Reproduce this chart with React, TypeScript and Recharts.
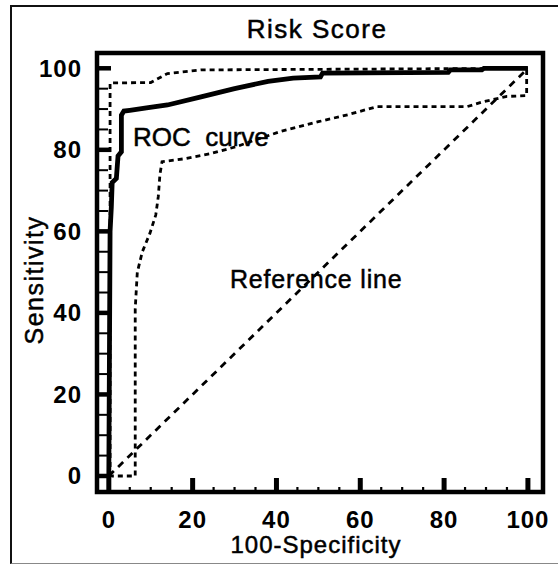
import React from 'react';
import { LineChart, Line, XAxis, YAxis, ReferenceArea } from 'recharts';

// ---- axis setup ----
const X_DOMAIN: [number, number] = [-2.82, 103.6];
const Y_DOMAIN: [number, number] = [-3.93, 103.75];
const AXIS_TICKS = [0, 5, 10, 15, 20, 25, 30, 35, 40, 45, 50, 55, 60, 65, 70, 75, 80, 85, 90, 95, 100];
const MAJOR_STEP = 20;

// ---- ROC curve (solid) ----
const rocX = [0, 0.3, 0.6, 0.8, 1.8, 2.2, 3, 3, 3.6, 5, 9, 14, 22, 30, 38, 44, 50.5, 51, 81, 81.5, 89, 89.5, 100];
const rocY = [0, 60, 66, 72, 73, 78.5, 79.5, 88.5, 89.5, 89.7, 90.3, 91, 93, 95, 96.8, 97.6, 97.9, 98.8, 99, 99.6, 99.6, 100, 100];

// ---- upper confidence bound (dashed) ----
const upperX = [0.3, 0.3, 10, 14, 22, 100];
const upperY = [0, 96.4, 96.5, 98.7, 99.6, 100];

// ---- lower confidence bound (dashed) ----
const lowerX = [0, 6.3, 6.3, 6.8, 8, 9.8, 11.2, 11.8, 12.2, 12.7, 18, 24, 30.5, 36, 41, 50, 57, 64, 85.5, 89, 95, 99.7, 99.7, 100];
const lowerY = [0, 0, 41, 50, 55, 59.5, 64, 68.5, 74, 77.1, 77.8, 79, 80.8, 82.8, 84.5, 86.9, 88.6, 90.6, 90.6, 91.7, 93.1, 93.3, 100, 100];

// ---- reference (chance) line ----
const refX = [0, 100];
const refY = [0, 100];

// ---- texts ----
const TITLE = 'Risk Score';
const X_TITLE = '100-Specificity';
const Y_TITLE = 'Sensitivity';
const ROC_LABEL = 'ROC\u00a0\u00a0curve';
const REF_LABEL = 'Reference line';

const zip = (xs: number[], ys: number[]) => xs.map((x, i) => ({ x, y: ys[i] }));
const rocData = zip(rocX, rocY);
const upperData = zip(upperX, upperY);
const lowerData = zip(lowerX, lowerY);
const refData = zip(refX, refY);

const FONT = '"Liberation Sans", Arial, Helvetica, sans-serif';
const TEXT_STROKE = { stroke: '#000', strokeWidth: 0.5 };

const XTick = (props: any) => {
  const { x, y, payload } = props;
  const v = payload.value as number;
  const major = v % MAJOR_STEP === 0;
  return (
    <g>
      <line x1={x} x2={x} y1={y} y2={y - (major ? 14 : 5)} stroke="#000" strokeWidth={major ? 5 : 2.2} />
      {major && (
        <text x={x} y={y + 28} dy="0.35em" textAnchor="middle" fontFamily={FONT} fontWeight="bold" fontSize={24} letterSpacing={1} fill="#000">
          {v}
        </text>
      )}
    </g>
  );
};

const YTick = (props: any) => {
  const { x, y, payload } = props;
  const v = payload.value as number;
  const major = v % MAJOR_STEP === 0;
  return (
    <g>
      <line x1={x} x2={x + (major ? 14 : 11)} y1={y} y2={y} stroke="#000" strokeWidth={major ? 4.5 : 2} />
      {major && (
        <text x={x - 15} y={y} dy="0.35em" textAnchor="end" fontFamily={FONT} fontWeight="bold" fontSize={24} letterSpacing={1} fill="#000">
          {v}
        </text>
      )}
    </g>
  );
};

export default function App() {
  return (
    <div style={{ position: 'absolute', left: 0, top: 0, width: 558, height: 567, background: '#fff', overflow: 'hidden' }}>
      <div
        style={{
          position: 'absolute',
          left: 10,
          top: 5,
          width: 560,
          height: 559,
          borderLeft: '2px solid #111',
          borderTop: '2px solid #111',
          borderBottom: '1px solid #888',
          boxSizing: 'border-box',
        }}
      />
      <LineChart width={558} height={567} margin={{ top: 53, right: 15, bottom: 45, left: 37 }} style={{ position: 'absolute', left: 0, top: 0 }}>
        <XAxis
          type="number"
          dataKey="x"
          domain={X_DOMAIN}
          allowDataOverflow
          ticks={AXIS_TICKS}
          interval={0}
          height={30}
          axisLine={false}
          tickLine={false}
          tickSize={0}
          tickMargin={0}
          tick={(p: any) => <XTick {...p} />}
        />
        <YAxis
          type="number"
          dataKey="y"
          domain={Y_DOMAIN}
          allowDataOverflow
          ticks={AXIS_TICKS}
          interval={0}
          width={60}
          axisLine={false}
          tickLine={false}
          tickSize={0}
          tickMargin={0}
          tick={(p: any) => <YTick {...p} />}
        />
        <Line data={refData} dataKey="y" type="linear" stroke="#000" strokeWidth={2.8} strokeDasharray="7 6" dot={false} isAnimationActive={false} />
        <Line data={lowerData} dataKey="y" type="linear" stroke="#000" strokeWidth={2.8} strokeDasharray="5 4" dot={false} isAnimationActive={false} />
        <Line data={upperData} dataKey="y" type="linear" stroke="#000" strokeWidth={2.8} strokeDasharray="5 4" dot={false} isAnimationActive={false} />
        <Line data={rocData} dataKey="y" type="linear" stroke="#000" strokeWidth={4.8} dot={false} isAnimationActive={false} />
        <ReferenceArea
          x1={X_DOMAIN[0]}
          x2={X_DOMAIN[1]}
          y1={Y_DOMAIN[0]}
          y2={Y_DOMAIN[1]}
          fill="none"
          fillOpacity={0}
          stroke="#000"
          strokeWidth={4.5}
          ifOverflow="visible"
        />
      </LineChart>
      <svg width={558} height={567} style={{ position: 'absolute', left: 0, top: 0, pointerEvents: 'none' }}>
        <text x={317} y={38} textAnchor="middle" fontFamily={FONT} fontSize={26} letterSpacing={1.5} fill="#000" {...TEXT_STROKE}>
          {TITLE}
        </text>
        <text x={316} y={545} dy="0.35em" textAnchor="middle" fontFamily={FONT} fontSize={24} letterSpacing={1} fill="#000" {...TEXT_STROKE}>
          {X_TITLE}
        </text>
        <text
          x={34}
          y={280}
          dy="0.35em"
          textAnchor="middle"
          transform="rotate(-90 34 280)"
          fontFamily={FONT}
          fontSize={25}
          letterSpacing={1.5}
          fill="#000"
          {...TEXT_STROKE}
        >
          {Y_TITLE}
        </text>
        <text x={133} y={146} fontFamily={FONT} fontSize={26} fill="#000" {...TEXT_STROKE}>
          {ROC_LABEL}
        </text>
        <text x={230} y={288} fontFamily={FONT} fontSize={25} letterSpacing={0.8} fill="#000" {...TEXT_STROKE}>
          {REF_LABEL}
        </text>
      </svg>
    </div>
  );
}
